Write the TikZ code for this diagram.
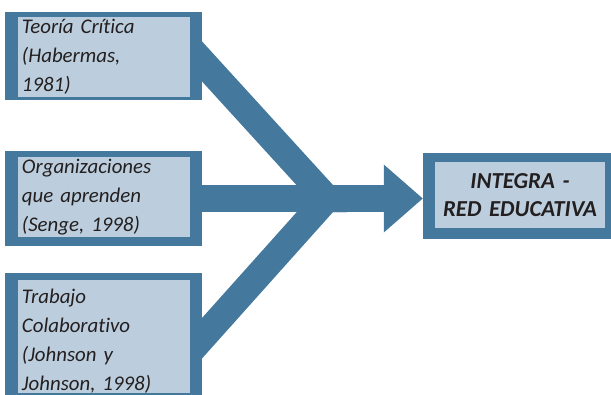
\documentclass[tikz,border=0pt]{standalone}
\usepackage{fontspec}
\setmainfont{Carlito}[Ligatures=NoCommon]
\usetikzlibrary{arrows.meta,positioning,calc,backgrounds}

\definecolor{bandblue}{RGB}{68,120,157}
\definecolor{paleblue}{RGB}{188,206,221}
\definecolor{inkgray}{RGB}{35,31,32}

\tikzset{
  frame/.style={fill=bandblue, inner sep=0pt},
  srcbox/.style={fill=paleblue, inner xsep=0.12cm, inner ysep=0pt, text width=4.92cm,
    align=left, minimum height=#1, text=inkgray,
    font=\itshape\fontsize{17.8}{24.6}\selectfont},
  goalbox/.style={fill=paleblue, inner sep=0pt, text width=5.1cm, align=center,
    minimum height=1.98cm, text=inkgray,
    font=\bfseries\itshape\fontsize{19.5}{24}\selectfont},
  band/.style={draw=bandblue, line width=0.81cm},
}

\begin{document}
\begin{tikzpicture}[x=0.03cm, y=-0.03cm]
\useasboundingbox (0,0) rectangle (611,395);

% outer frames
\node[frame, minimum width=5.91cm, minimum height=2.64cm] (f1) at (103.5,56) {};
\node[frame, minimum width=5.91cm, minimum height=2.85cm] (f2) at (103.5,198.5) {};
\node[frame, minimum width=5.91cm, minimum height=3.66cm] (f3) at (103.5,334) {};
\node[frame, minimum width=5.64cm, minimum height=2.58cm] (f4) at (517,196) {};

% texts
\node[srcbox=2.4cm] (teoria) at (104,57) {Teoría Crítica\\(Habermas,\\1981)};
\node[srcbox=2.4cm] (organiz) at (104,197) {Organizaciones\\que aprenden\\(Senge, 1998)};
\node[srcbox=3.27cm] (trabajo) at (104,336.5) {\rule{0pt}{20pt}Trabajo\\Colaborativo\\(Johnson y\\Johnson, 1998)};
\node[goalbox] (integra) at (520,195) {INTEGRA -\\RED EDUCATIVA};

% the three bands meet and point to the goal
\coordinate (join) at (327,198.5);
\begin{scope}[on background layer]
\draw[band] ($(f1.east)+(-17,-13)$) -- (join) -- ++(20,0);
\draw[band] ($(f3.east)+(-17,23)$) -- (join) -- ++(20,0);
\draw[band, -{Triangle[length=1.17cm, width=2.04cm, line width=0pt]}]
  (f2.east) -- (f2.east -| f4.west);
\end{scope}
\end{tikzpicture}
\end{document}
